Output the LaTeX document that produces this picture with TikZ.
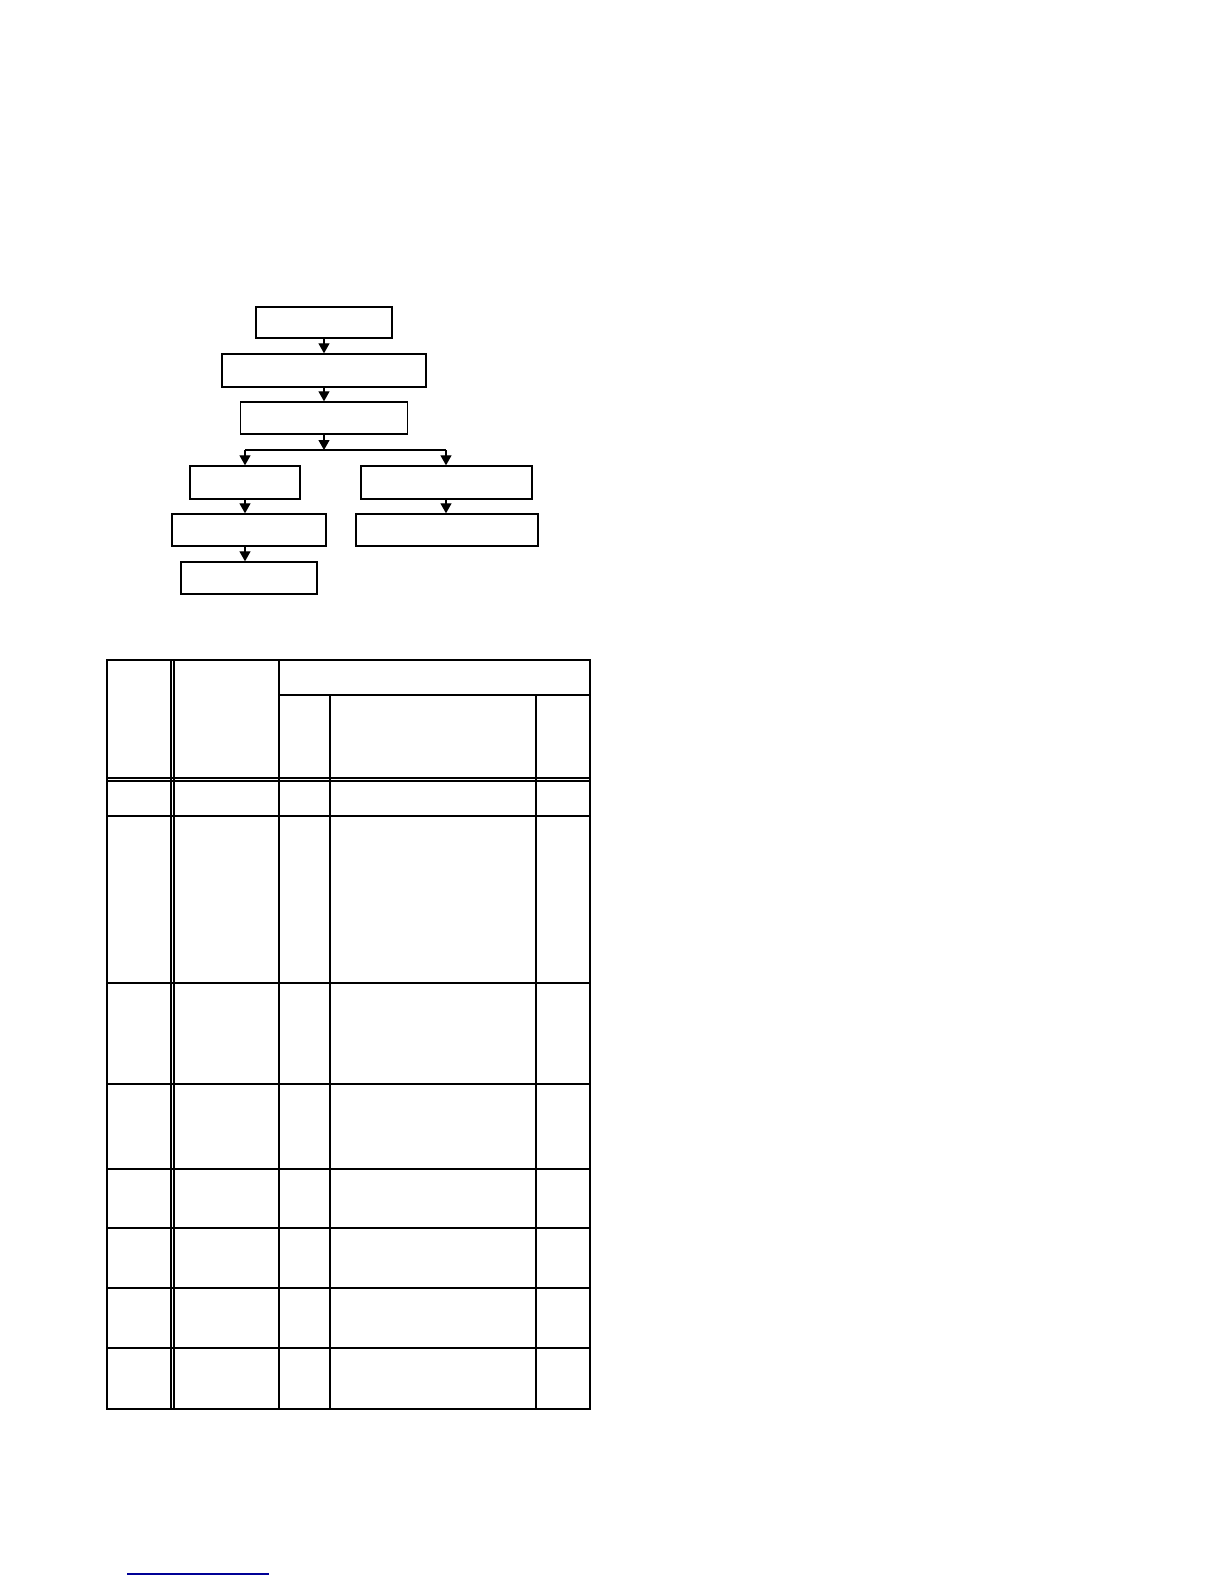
\documentclass[tikz,border=0pt]{standalone}
\usetikzlibrary{arrows.meta}
\begin{document}
\begin{tikzpicture}[x=1pt,y=-1pt,
  box/.style={draw=black,line width=1.4pt,fill=white,inner sep=0pt,minimum width=#1},
  flow/.style={line width=1.2pt,-{Triangle[length=10pt,width=11pt]}},
  plainline/.style={line width=1.2pt},
  tline/.style={line width=1.4pt},
  thinline/.style={line width=1.1pt},
  outer/.style={line width=2.6pt}]
\useasboundingbox (0,0) rectangle (1224,1584);
\fill[white] (0,0) rectangle (1224,1584);
% flowchart
\node[box=136, minimum height=31] (b1) at (324,322.5) {};
\node[box=204, minimum height=33] (b2) at (324,370.5) {};
\node[box=167, minimum height=32] (b3) at (324,418) {};
\node[box=110, minimum height=33] (b4) at (245,482.5) {};
\node[box=171, minimum height=33] (b5) at (446.5,482.5) {};
\node[box=154, minimum height=32] (b6) at (249,530) {};
\node[box=182, minimum height=32] (b7) at (447,530) {};
\node[box=136, minimum height=32] (b8) at (249,578) {};
\coordinate (j) at (324,450);
\coordinate (jl) at (245,450);
\coordinate (jr) at (446,450);
\draw[flow] (b1.south) -- (b2.north);
\draw[flow] (b2.south) -- (b3.north);
\draw[flow] (b3.south) -- (j);
\draw[plainline] (jl) -- (jr);
\draw[flow] (jl) -- (jl |- b4.north);
\draw[flow] (jr) -- (jr |- b5.north);
\draw[flow] (b4.south) -- (b4.south |- b6.north);
\draw[flow] (jr |- b5.south) -- (jr |- b7.north);
\draw[flow] (b4.south |- b6.south) -- (b4.south |- b8.north);
% table
\draw[tline] (279,695) -- (590,695);
\draw[thinline] (107,778) -- (590,778);
\draw[thinline] (107,781) -- (590,781);
\foreach \yy in {816,983,1084,1169,1228,1288,1348}{
  \draw[tline] (107,\yy) -- (590,\yy);
}
\draw[thinline] (171,660) -- (171,1409);
\draw[thinline] (174,660) -- (174,1409);
\draw[tline] (279,660) -- (279,1409);
\draw[tline] (330,695) -- (330,1409);
\draw[tline] (536,695) -- (536,1409);
\draw[outer] (107,660) rectangle (590,1409);
% blue rule
\definecolor{rulebl}{RGB}{0,0,150}
\draw[rulebl,line width=1.6pt] (127,1574) -- (269,1574);
\end{tikzpicture}
\end{document}
